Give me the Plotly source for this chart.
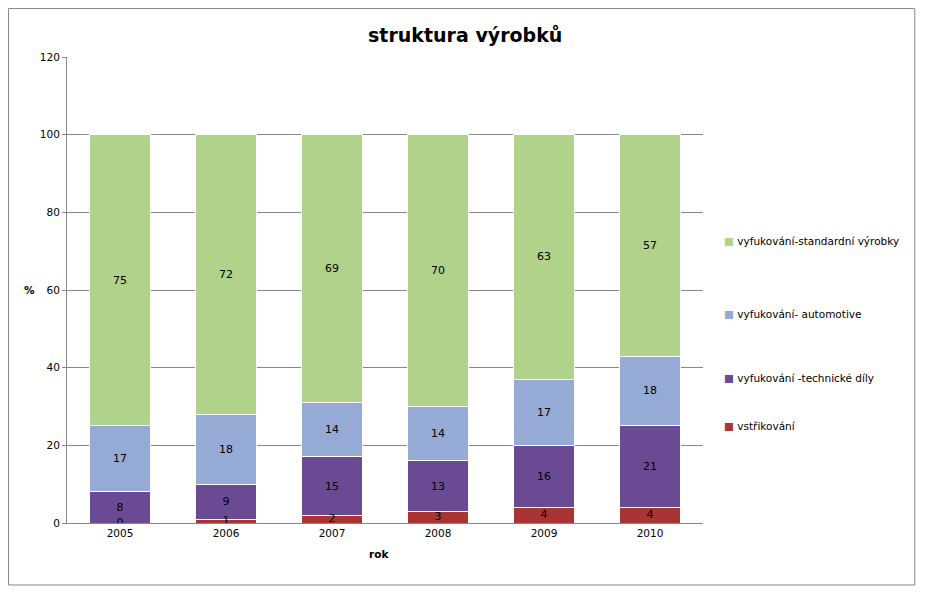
import plotly.graph_objects as go

years = ["2005", "2006", "2007", "2008", "2009", "2010"]
vstrik = [0, 1, 2, 3, 4, 4]
technicke = [8, 9, 15, 13, 16, 21]
automotive = [17, 18, 14, 14, 17, 18]
standard = [75, 72, 69, 70, 63, 57]

series = [
    ("vstřikování", vstrik, "#A83434"),
    ("vyfukování -technické díly", technicke, "#6B4A94"),
    ("vyfukování- automotive", automotive, "#95ABD5"),
    ("vyfukování-standardní výrobky", standard, "#B0D28B"),
]

fig = go.Figure()
for name, vals, col in series:
    fig.add_trace(go.Bar(
        x=years, y=vals, name=name, marker_color=col,
        marker_line=dict(color="white", width=1),
        text=vals if name != "vstřikování" else None,
        textposition="inside", insidetextanchor="middle",
        textfont=dict(size=11, color="black"), width=0.57,
    ))
# red labels (incl. zero) drawn as text points at the segment middle
fig.add_trace(go.Scatter(
    x=years, y=[v / 2 for v in vstrik], mode="text", text=vstrik,
    textfont=dict(size=11, color="black"), showlegend=False, hoverinfo="skip",
))

fig.update_layout(
    barmode="stack", width=935, height=602,
    margin=dict(l=59, r=240, t=49, b=87),
    paper_bgcolor="white", plot_bgcolor="white",
    font=dict(family="DejaVu Sans", size=10.5, color="black"),
    showlegend=False,
    title=dict(text="<b>struktura výrobků</b>", x=0.489, xanchor="center", y=0.965,
               font=dict(size=19)),
    xaxis=dict(showline=True, linecolor="#888", ticks="", tickfont=dict(size=10.5)),
    yaxis=dict(range=[0, 120], dtick=20, showgrid=True, gridcolor="#888",
               showline=True, linecolor="#888", ticks="outside", ticklen=4,
               tickcolor="#888", zeroline=False),
)
fig.add_shape(type="rect", xref="paper", yref="paper", x0=-0.092, x1=1.333,
              y0=-0.133, y1=1.104, line=dict(color="#888", width=1))
fig.add_annotation(text="<b>%</b>", xref="paper", yref="paper", x=-0.07, y=0.5,
                   showarrow=False, font=dict(size=10.5))
fig.add_annotation(text="<b>rok</b>", xref="paper", yref="paper", x=0.49, y=-0.083,
                   showarrow=False, font=dict(size=10.5))

legend_y = [434, 386, 314, 241]
for (name, vals, col), py in zip(series, legend_y):
    yp = (523 - py) / 466
    fig.add_annotation(text="<span style='color:%s'>■</span> %s" % (col, name),
                       xref="paper", yref="paper", x=(722 - 67) / 636, y=yp,
                       xanchor="left", showarrow=False, font=dict(size=10.5))

fig.write_html("out.html")
